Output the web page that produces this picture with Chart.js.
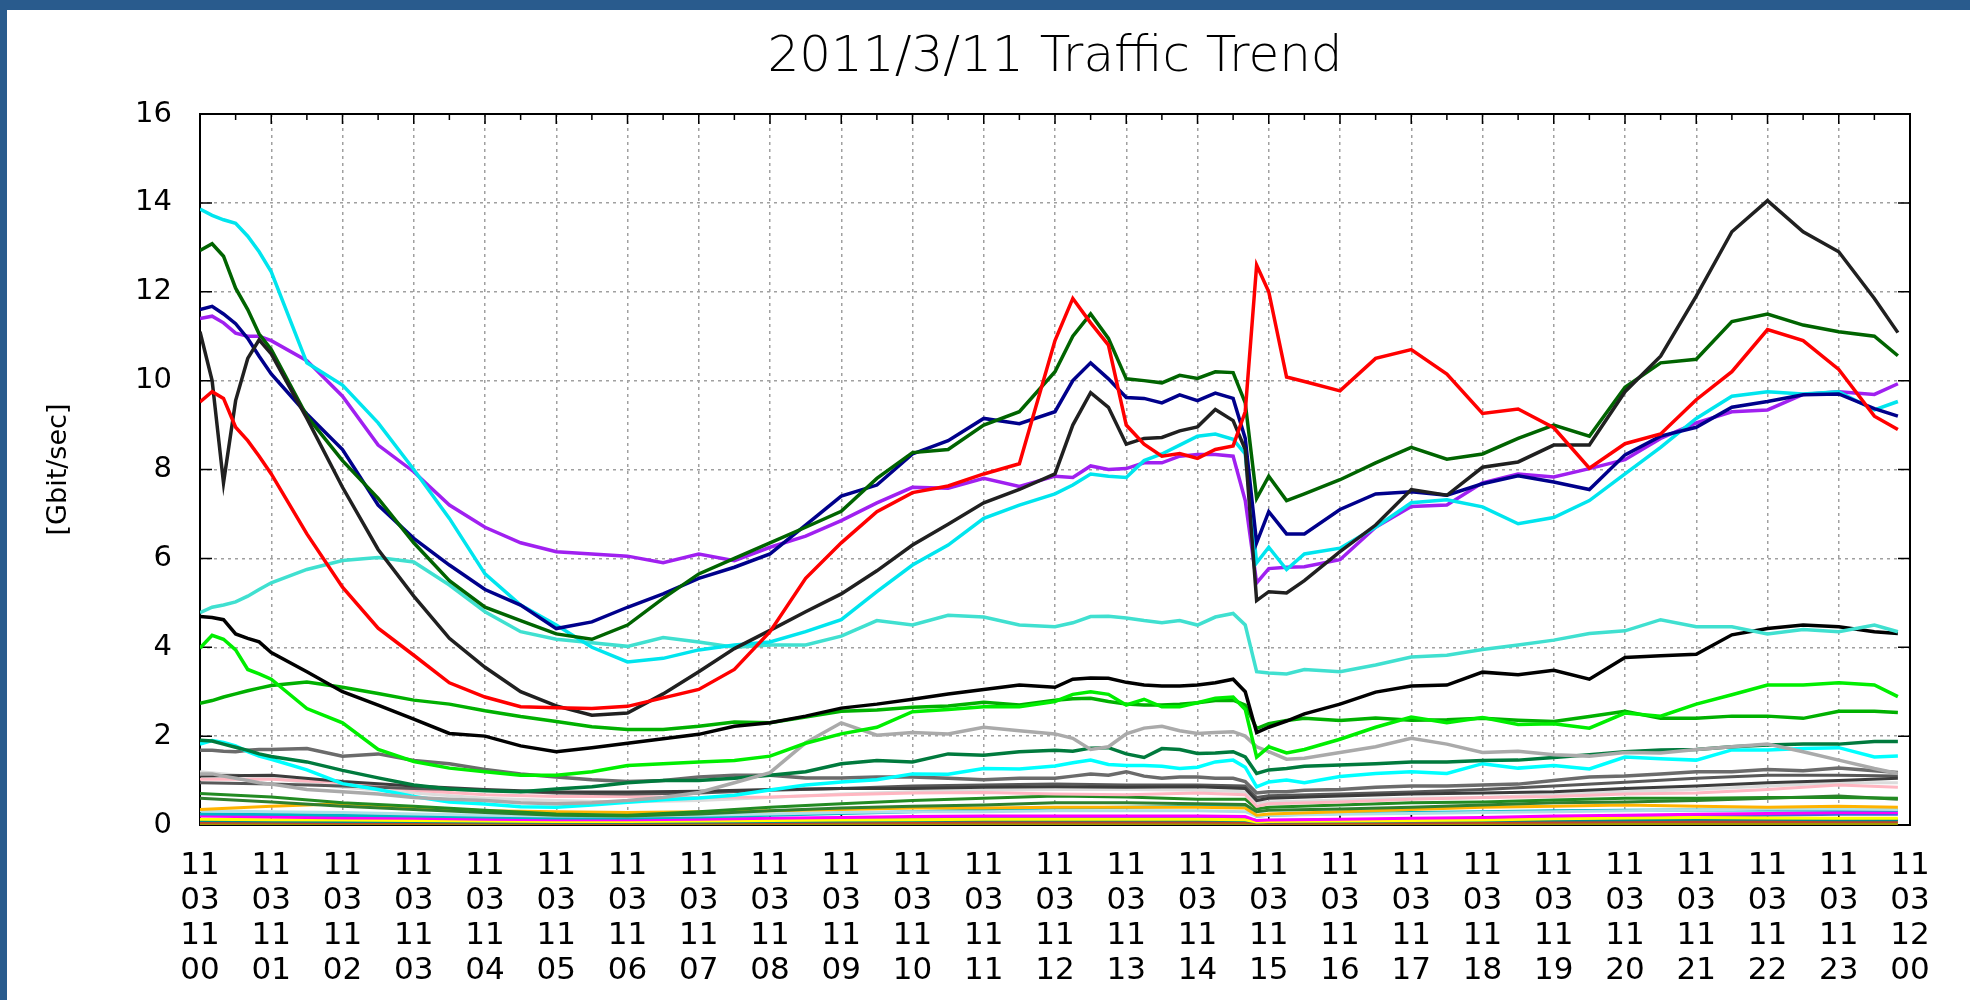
<!DOCTYPE html>
<html>
<head>
<meta charset="utf-8">
<script src="https://cdn.jsdelivr.net/npm/chart.js@4.4.1/dist/chart.umd.min.js"></script>
<style>
  html, body { margin: 0; padding: 0; background: #295b8d; }
  #wrap { position: absolute; left: 7px; top: 10px; width: 1963px; height: 990px; background: #fff; }
</style>
</head>
<body>
<div id="wrap"><canvas id="trafficChart" width="1963" height="990"></canvas></div>
<script>
const titleText = '2011/3/11 Traffic Trend';
const yTitle = '[Gbit/sec]';

// time of day in hours (fine grid for the big links, coarse grid for the small ones)
const hoursFine = [0, 0.17, 0.33, 0.5, 0.67, 0.83, 1, 1.5, 2, 2.5, 3, 3.5, 4, 4.5, 5, 5.5, 6, 6.5, 7, 7.5,
  8, 8.5, 9, 9.5, 10, 10.5, 11, 11.5, 12, 12.25, 12.5, 12.75, 13, 13.25, 13.5, 13.75, 14, 14.25, 14.5,
  14.67, 14.83, 15, 15.25, 15.5, 16, 16.5, 17, 17.5, 18, 18.5, 19, 19.5, 20, 20.5, 21, 21.5, 22, 22.5,
  23, 23.5, 23.83];
const hoursCoarse = [0, 1, 2, 3, 4, 5, 6, 7, 8, 9, 10, 11, 12, 13, 14, 14.67, 14.83, 15, 16, 17, 18, 19,
  20, 21, 22, 23, 23.83];

const xTickHours = [0, 1, 2, 3, 4, 5, 6, 7, 8, 9, 10, 11, 12, 13, 14, 15, 16, 17, 18, 19, 20, 21, 22, 23, 24];
const xTickLabels = [
  ['11', '03', '11', '00'], ['11', '03', '11', '01'], ['11', '03', '11', '02'], ['11', '03', '11', '03'],
  ['11', '03', '11', '04'], ['11', '03', '11', '05'], ['11', '03', '11', '06'], ['11', '03', '11', '07'],
  ['11', '03', '11', '08'], ['11', '03', '11', '09'], ['11', '03', '11', '10'], ['11', '03', '11', '11'],
  ['11', '03', '11', '12'], ['11', '03', '11', '13'], ['11', '03', '11', '14'], ['11', '03', '11', '15'],
  ['11', '03', '11', '16'], ['11', '03', '11', '17'], ['11', '03', '11', '18'], ['11', '03', '11', '19'],
  ['11', '03', '11', '20'], ['11', '03', '11', '21'], ['11', '03', '11', '22'], ['11', '03', '11', '23'],
  ['11', '03', '12', '00']
];
const yTicks = [0, 2, 4, 6, 8, 10, 12, 14, 16];

// big links (Gbit/sec), on hoursFine
const cyanA = [13.86, 13.72, 13.62, 13.54, 13.25, 12.9, 12.45, 10.4, 9.9, 9.05, 8.0, 6.9, 5.65, 4.95, 4.5, 4.0,
  3.67, 3.75, 3.94, 4.05, 4.12, 4.35, 4.62, 5.25, 5.85, 6.3, 6.9, 7.2, 7.45, 7.65, 7.9, 7.85, 7.82, 8.2, 8.35,
  8.55, 8.75, 8.8, 8.68, 8.35, 5.9, 6.25, 5.75, 6.1, 6.23, 6.7, 7.25, 7.32, 7.16, 6.78, 6.92, 7.3, 7.9, 8.5,
  9.15, 9.65, 9.75, 9.7, 9.75, 9.34, 9.53];
const darkGreen = [12.93, 13.08, 12.8, 12.08, 11.6, 11.05, 10.7, 9.2, 8.2, 7.35, 6.35, 5.5, 4.9, 4.6, 4.3, 4.18,
  4.5, 5.1, 5.65, 6.0, 6.35, 6.7, 7.06, 7.8, 8.38, 8.45, 9.0, 9.3, 10.2, 11.0, 11.5, 10.95, 10.04, 10.0, 9.95,
  10.12, 10.05, 10.2, 10.18, 9.5, 7.35, 7.85, 7.3, 7.45, 7.77, 8.15, 8.5, 8.23, 8.35, 8.7, 9.0, 8.75, 9.85,
  10.4, 10.48, 11.33, 11.5, 11.25, 11.1, 11.0, 10.56];
const navy = [11.6, 11.67, 11.5, 11.28, 10.95, 10.55, 10.15, 9.25, 8.45, 7.2, 6.45, 5.85, 5.3, 4.95, 4.42, 4.57,
  4.9, 5.2, 5.55, 5.8, 6.1, 6.75, 7.4, 7.65, 8.35, 8.65, 9.15, 9.03, 9.3, 10.0, 10.4, 10.04, 9.62, 9.6, 9.5,
  9.68, 9.55, 9.72, 9.6, 8.7, 6.35, 7.05, 6.55, 6.55, 7.1, 7.45, 7.5, 7.42, 7.68, 7.86, 7.72, 7.55, 8.33,
  8.75, 8.95, 9.4, 9.53, 9.68, 9.7, 9.37, 9.2];
const purple = [11.4, 11.45, 11.3, 11.07, 11.0, 11.0, 10.9, 10.45, 9.65, 8.55, 7.95, 7.2, 6.7, 6.35, 6.15, 6.1,
  6.05, 5.9, 6.1, 5.95, 6.25, 6.5, 6.85, 7.25, 7.6, 7.58, 7.8, 7.62, 7.85, 7.82, 8.08, 8.0, 8.02, 8.15, 8.15,
  8.3, 8.34, 8.34, 8.3, 7.3, 5.45, 5.77, 5.8, 5.81, 5.97, 6.7, 7.17, 7.2, 7.7, 7.9, 7.83, 8.02, 8.22, 8.7,
  9.05, 9.3, 9.34, 9.69, 9.75, 9.69, 9.93];
const blackA = [11.1, 10.0, 7.7, 9.55, 10.5, 10.92, 10.6, 9.15, 7.6, 6.2, 5.15, 4.2, 3.55, 3.0, 2.68, 2.47, 2.52,
  2.95, 3.45, 3.97, 4.38, 4.8, 5.2, 5.72, 6.3, 6.77, 7.25, 7.55, 7.9, 9.0, 9.73, 9.4, 8.57, 8.7, 8.72, 8.87,
  8.96, 9.35, 9.1, 8.45, 5.05, 5.25, 5.22, 5.5, 6.15, 6.75, 7.55, 7.42, 8.05, 8.17, 8.55, 8.55, 9.75, 10.55,
  11.9, 13.35, 14.05, 13.35, 12.9, 11.85, 11.08];
const red = [9.52, 9.75, 9.6, 8.95, 8.65, 8.3, 7.9, 6.55, 5.35, 4.43, 3.82, 3.2, 2.88, 2.66, 2.64, 2.62, 2.67,
  2.86, 3.05, 3.5, 4.35, 5.55, 6.35, 7.05, 7.48, 7.63, 7.9, 8.13, 10.9, 11.85, 11.3, 10.8, 9.0, 8.57, 8.3,
  8.36, 8.25, 8.45, 8.53, 9.3, 12.6, 12.0, 10.08, 9.98, 9.77, 10.5, 10.7, 10.15, 9.26, 9.36, 8.94, 8.03, 8.58,
  8.8, 9.57, 10.2, 11.15, 10.9, 10.25, 9.2, 8.9];
const turquoise = [4.78, 4.9, 4.95, 5.02, 5.15, 5.3, 5.45, 5.75, 5.95, 6.02, 5.92, 5.4, 4.8, 4.35, 4.18, 4.1,
  4.02, 4.22, 4.12, 4.0, 4.05, 4.05, 4.25, 4.6, 4.5, 4.72, 4.68, 4.5, 4.46, 4.55, 4.69, 4.7, 4.66, 4.6, 4.55,
  4.6, 4.5, 4.68, 4.76, 4.5, 3.45, 3.42, 3.4, 3.5, 3.45, 3.6, 3.78, 3.82, 3.95, 4.05, 4.16, 4.31, 4.37, 4.62,
  4.46, 4.46, 4.3, 4.4, 4.35, 4.5, 4.35];
const blackB = [4.69, 4.67, 4.62, 4.3, 4.2, 4.12, 3.88, 3.45, 3.0, 2.7, 2.38, 2.06, 2.0, 1.78, 1.65, 1.74, 1.84,
  1.94, 2.04, 2.22, 2.3, 2.45, 2.63, 2.72, 2.83, 2.95, 3.05, 3.15, 3.1, 3.28, 3.31, 3.3, 3.21, 3.15, 3.13,
  3.13, 3.15, 3.2, 3.28, 3.0, 2.08, 2.2, 2.34, 2.5, 2.72, 2.99, 3.13, 3.15, 3.44, 3.38, 3.48, 3.28, 3.77,
  3.81, 3.84, 4.28, 4.42, 4.5, 4.46, 4.35, 4.31];
const lime = [3.98, 4.27, 4.18, 3.94, 3.5, 3.4, 3.28, 2.62, 2.3, 1.7, 1.43, 1.28, 1.2, 1.12, 1.12, 1.2, 1.34,
  1.38, 1.42, 1.45, 1.55, 1.84, 2.05, 2.2, 2.55, 2.6, 2.66, 2.66, 2.78, 2.94, 3.0, 2.94, 2.7, 2.83, 2.66,
  2.66, 2.75, 2.85, 2.88, 2.6, 1.53, 1.76, 1.62, 1.7, 1.93, 2.2, 2.43, 2.3, 2.42, 2.26, 2.28, 2.18, 2.52,
  2.45, 2.72, 2.93, 3.15, 3.15, 3.2, 3.15, 2.89];
const green3 = [2.74, 2.8, 2.88, 2.95, 3.02, 3.08, 3.14, 3.22, 3.1, 2.96, 2.81, 2.72, 2.57, 2.44, 2.33, 2.21,
  2.15, 2.15, 2.22, 2.32, 2.3, 2.43, 2.56, 2.59, 2.65, 2.68, 2.76, 2.7, 2.81, 2.84, 2.85, 2.78, 2.72, 2.7,
  2.7, 2.72, 2.75, 2.8, 2.81, 2.7, 2.17, 2.28, 2.35, 2.4, 2.35, 2.41, 2.36, 2.37, 2.4, 2.36, 2.33, 2.44,
  2.56, 2.4, 2.4, 2.45, 2.45, 2.4, 2.56, 2.56, 2.53];
const seaGreen = [1.91, 1.89, 1.82, 1.75, 1.68, 1.6, 1.54, 1.42, 1.23, 1.06, 0.9, 0.81, 0.77, 0.75, 0.81, 0.86,
  0.95, 1.0, 1.0, 1.05, 1.12, 1.2, 1.38, 1.45, 1.42, 1.6, 1.57, 1.65, 1.68, 1.66, 1.73, 1.74, 1.6, 1.52, 1.72,
  1.7, 1.61, 1.62, 1.65, 1.53, 1.16, 1.24, 1.27, 1.32, 1.35, 1.38, 1.42, 1.42, 1.45, 1.46, 1.52, 1.58, 1.65,
  1.69, 1.7, 1.76, 1.8, 1.82, 1.82, 1.88, 1.88];
const cyanB = [1.82, 1.9, 1.86, 1.78, 1.65, 1.55, 1.48, 1.24, 0.93, 0.8, 0.64, 0.52, 0.47, 0.41, 0.4, 0.45, 0.51,
  0.57, 0.61, 0.67, 0.79, 0.9, 0.97, 1.02, 1.15, 1.14, 1.27, 1.26, 1.33, 1.4, 1.46, 1.36, 1.34, 1.34, 1.32,
  1.27, 1.3, 1.42, 1.46, 1.3, 0.86, 0.97, 1.01, 0.95, 1.09, 1.16, 1.2, 1.16, 1.38, 1.28, 1.34, 1.26, 1.53,
  1.49, 1.46, 1.69, 1.69, 1.72, 1.74, 1.53, 1.55];
const silver = [1.15, 1.15, 1.1, 1.05, 1.0, 0.95, 0.92, 0.8, 0.75, 0.7, 0.62, 0.58, 0.55, 0.5, 0.48, 0.5, 0.55,
  0.62, 0.73, 0.95, 1.18, 1.85, 2.3, 2.02, 2.08, 2.05, 2.2, 2.12, 2.05, 1.95, 1.7, 1.76, 2.05, 2.18, 2.22,
  2.12, 2.06, 2.08, 2.1, 2.0, 1.76, 1.65, 1.48, 1.5, 1.63, 1.76, 1.95, 1.82, 1.63, 1.66, 1.58, 1.55, 1.63,
  1.62, 1.7, 1.76, 1.82, 1.65, 1.46, 1.27, 1.16];
const dimGrey = [1.68, 1.68, 1.66, 1.65, 1.68, 1.7, 1.7, 1.72, 1.55, 1.6, 1.45, 1.38, 1.25, 1.15, 1.08, 1.02,
  0.98, 1.0, 1.08, 1.12, 1.12, 1.06, 1.06, 1.08, 1.08, 1.05, 1.02, 1.05, 1.05, 1.1, 1.15, 1.12, 1.2, 1.1,
  1.05, 1.08, 1.08, 1.05, 1.05, 0.98, 0.72, 0.75, 0.75, 0.78, 0.8, 0.85, 0.88, 0.88, 0.9, 0.92, 1.0, 1.08,
  1.1, 1.15, 1.2, 1.2, 1.25, 1.22, 1.28, 1.22, 1.18];

// small links, on hoursCoarse
const darkGrey = [1.1, 1.12, 0.98, 0.88, 0.8, 0.74, 0.74, 0.76, 0.8, 0.82, 0.82, 0.85, 0.86, 0.85, 0.86, 0.82,
  0.55, 0.6, 0.65, 0.7, 0.72, 0.75, 0.82, 0.88, 0.95, 1.0, 1.05];
const grey2 = [0.95, 0.92, 0.88, 0.82, 0.78, 0.72, 0.7, 0.72, 0.78, 0.82, 0.88, 0.9, 0.92, 0.9, 0.9, 0.88, 0.62,
  0.66, 0.7, 0.74, 0.8, 0.88, 0.96, 1.05, 1.12, 1.12, 1.1];
const pink = [1.03, 1.03, 0.95, 0.78, 0.68, 0.64, 0.64, 0.62, 0.63, 0.68, 0.72, 0.73, 0.7, 0.68, 0.72, 0.68, 0.42,
  0.48, 0.52, 0.58, 0.62, 0.64, 0.7, 0.72, 0.8, 0.9, 0.85];
const lightGrey = [1.2, 1.05, 0.85, 0.72, 0.6, 0.55, 0.52, 0.55, 0.62, 0.7, 0.75, 0.78, 0.8, 0.8, 0.78, 0.75, 0.5,
  0.52, 0.56, 0.6, 0.62, 0.68, 0.75, 0.8, 0.88, 0.95, 0.95];
const forestGreen = [0.71, 0.63, 0.5, 0.42, 0.33, 0.25, 0.22, 0.3, 0.4, 0.48, 0.55, 0.6, 0.65, 0.63, 0.58, 0.58,
  0.36, 0.4, 0.45, 0.5, 0.52, 0.56, 0.6, 0.6, 0.62, 0.62, 0.6];
const oliveGreen = [0.6, 0.52, 0.42, 0.35, 0.28, 0.22, 0.2, 0.25, 0.32, 0.38, 0.42, 0.45, 0.5, 0.5, 0.48, 0.46,
  0.3, 0.33, 0.36, 0.4, 0.45, 0.5, 0.52, 0.55, 0.6, 0.65, 0.58];
const orange = [0.35, 0.42, 0.48, 0.4, 0.32, 0.3, 0.28, 0.3, 0.32, 0.35, 0.38, 0.38, 0.4, 0.4, 0.4, 0.38, 0.22,
  0.25, 0.3, 0.35, 0.4, 0.42, 0.45, 0.42, 0.4, 0.42, 0.4];
const powder = [0.32, 0.3, 0.28, 0.25, 0.22, 0.2, 0.2, 0.22, 0.25, 0.28, 0.3, 0.3, 0.32, 0.32, 0.32, 0.3, 0.2,
  0.22, 0.24, 0.26, 0.28, 0.3, 0.32, 0.34, 0.36, 0.36, 0.35];
const darkTurq = [0.25, 0.24, 0.22, 0.2, 0.18, 0.16, 0.16, 0.18, 0.22, 0.26, 0.3, 0.34, 0.38, 0.4, 0.42, 0.42, 0.2,
  0.22, 0.26, 0.28, 0.3, 0.32, 0.33, 0.34, 0.34, 0.34, 0.33];
const magenta = [0.2, 0.18, 0.16, 0.15, 0.13, 0.12, 0.12, 0.13, 0.15, 0.17, 0.19, 0.2, 0.2, 0.2, 0.2, 0.19, 0.1,
  0.11, 0.13, 0.15, 0.17, 0.2, 0.22, 0.24, 0.26, 0.28, 0.28];
const yellow = [0.13, 0.12, 0.11, 0.1, 0.09, 0.08, 0.08, 0.09, 0.1, 0.11, 0.12, 0.13, 0.13, 0.13, 0.13, 0.12, 0.07,
  0.08, 0.09, 0.1, 0.11, 0.14, 0.16, 0.17, 0.16, 0.15, 0.15];
const royal = [0.22, 0.2, 0.17, 0.15, 0.13, 0.12, 0.12, 0.13, 0.14, 0.15, 0.16, 0.17, 0.17, 0.17, 0.17, 0.16, 0.1,
  0.1, 0.12, 0.13, 0.14, 0.15, 0.17, 0.19, 0.22, 0.24, 0.24];
const darkCyan = [0.1, 0.09, 0.08, 0.08, 0.07, 0.06, 0.06, 0.07, 0.08, 0.09, 0.1, 0.11, 0.11, 0.11, 0.11, 0.1,
  0.06, 0.07, 0.08, 0.09, 0.1, 0.11, 0.12, 0.13, 0.13, 0.12, 0.12];
const brown = [0.06, 0.06, 0.05, 0.05, 0.05, 0.04, 0.04, 0.05, 0.05, 0.06, 0.06, 0.07, 0.07, 0.07, 0.07, 0.06,
  0.04, 0.04, 0.05, 0.05, 0.06, 0.07, 0.08, 0.08, 0.08, 0.08, 0.08];
const olive = [0.03, 0.03, 0.03, 0.02, 0.02, 0.02, 0.02, 0.02, 0.03, 0.03, 0.03, 0.03, 0.03, 0.03, 0.03, 0.03,
  0.02, 0.02, 0.02, 0.02, 0.03, 0.03, 0.03, 0.03, 0.03, 0.03, 0.03];

const FONT = 'DejaVu Sans';

function pts(hours, vals) {
  return vals.map((v, i) => ({ x: hours[i], y: v }));
}

function line(data, color, w) {
  return { data: data, borderColor: color, borderWidth: w || 3.5, pointRadius: 0, fill: false, tension: 0 };
}

const datasets = [
  line(pts(hoursFine, red), '#ff0000'),
  line(pts(hoursFine, blackA), '#202020'),
  line(pts(hoursFine, darkGreen), '#006400'),
  line(pts(hoursFine, navy), '#00008b'),
  line(pts(hoursFine, cyanA), '#00e5ee'),
  line(pts(hoursFine, purple), '#a020f0'),
  line(pts(hoursFine, turquoise), '#40e0d0'),
  line(pts(hoursFine, blackB), '#000000'),
  line(pts(hoursFine, lime), '#00ee00'),
  line(pts(hoursFine, green3), '#00b000'),
  line(pts(hoursFine, silver), '#aaaaaa'),
  line(pts(hoursFine, seaGreen), '#007a3d'),
  line(pts(hoursFine, cyanB), '#00ffff'),
  line(pts(hoursFine, dimGrey), '#6b6b6b'),
  line(pts(hoursCoarse, darkGrey), '#3c3c3c', 3),
  line(pts(hoursCoarse, grey2), '#585858', 3),
  line(pts(hoursCoarse, pink), '#ffb6c1', 3),
  line(pts(hoursCoarse, lightGrey), '#dcdcdc', 3),
  line(pts(hoursCoarse, forestGreen), '#228b22', 3),
  line(pts(hoursCoarse, oliveGreen), '#2f7f2f', 3),
  line(pts(hoursCoarse, orange), '#ffb300', 3),
  line(pts(hoursCoarse, powder), '#b0e0e6', 3),
  line(pts(hoursCoarse, darkTurq), '#00b5c8', 3),
  line(pts(hoursCoarse, magenta), '#ff00ff', 3),
  line(pts(hoursCoarse, yellow), '#ffff00', 3),
  line(pts(hoursCoarse, royal), '#4169e1', 3),
  line(pts(hoursCoarse, darkCyan), '#008b8b', 3),
  line(pts(hoursCoarse, brown), '#c0452a', 3),
  line(pts(hoursCoarse, olive), '#a09a00', 3)
];

// gnuplot style frame with inward ticks
const framePlugin = {
  id: 'frame',
  beforeDatasetsDraw(chart) {
    const { ctx, chartArea: a, scales } = chart;
    const x = scales.x, y = scales.y;
    ctx.save();
    ctx.strokeStyle = '#000';
    ctx.lineWidth = 1.5;
    ctx.beginPath();
    yTicks.forEach(v => {
      const py = y.getPixelForValue(v);
      ctx.moveTo(a.left, py); ctx.lineTo(a.left + 12, py);
      ctx.moveTo(a.right, py); ctx.lineTo(a.right - 12, py);
    });
    xTickHours.forEach((h, i) => {
      const px = x.getPixelForValue(h);
      ctx.moveTo(px, a.top); ctx.lineTo(px, a.top + 10);
      ctx.moveTo(px, a.bottom); ctx.lineTo(px, a.bottom - 10);
      if (i < xTickHours.length - 1) {
        const pm = x.getPixelForValue(h + 0.5);
        ctx.moveTo(pm, a.top); ctx.lineTo(pm, a.top + 6);
        ctx.moveTo(pm, a.bottom); ctx.lineTo(pm, a.bottom - 6);
      }
    });
    ctx.stroke();
    ctx.lineWidth = 2;
    ctx.strokeRect(a.left, a.top, a.right - a.left, a.bottom - a.top);
    ctx.restore();
  }
};

const ctx = document.getElementById('trafficChart').getContext('2d');
new Chart(ctx, {
  type: 'line',
  data: { datasets: datasets },
  plugins: [framePlugin],
  options: {
    responsive: false,
    animation: false,
    devicePixelRatio: 1,
    events: [],
    layout: { padding: { left: 0, right: 60, top: 0, bottom: 5 } },
    plugins: {
      legend: { display: false },
      tooltip: { enabled: false },
      title: {
        display: true,
        text: titleText,
        fullSize: false,
        color: '#000',
        font: { family: FONT, size: 50, weight: '200', lineHeight: 1.2 },
        padding: { top: 18, bottom: 26 }
      }
    },
    scales: {
      x: {
        type: 'linear',
        min: 0,
        max: 24,
        afterBuildTicks: s => { s.ticks = xTickHours.map(v => ({ value: v })); },
        afterFit: s => { s.height = 170; },
        ticks: {
          autoSkip: false,
          maxRotation: 0,
          minRotation: 0,
          padding: 23,
          color: '#000',
          font: { family: FONT, size: 31, lineHeight: '35px' },
          callback: (v, i) => xTickLabels[i]
        },
        grid: { color: '#a0a0a0', lineWidth: 1.5, drawTicks: false },
        border: { display: false, dash: [3, 4] }
      },
      y: {
        min: 0,
        max: 16,
        afterBuildTicks: s => { s.ticks = yTicks.map(v => ({ value: v })); },
        afterFit: s => { s.width = 193; },
        ticks: {
          padding: 28,
          color: '#000',
          font: { family: FONT, size: 29 },
          callback: v => String(v)
        },
        grid: { color: '#a0a0a0', lineWidth: 1.5, drawTicks: false },
        border: { display: false, dash: [3, 4] },
        title: {
          display: true,
          text: yTitle,
          color: '#000',
          font: { family: FONT, size: 27 },
          padding: { top: 36, bottom: 0 }
        }
      }
    }
  }
});
</script>
</body>
</html>
